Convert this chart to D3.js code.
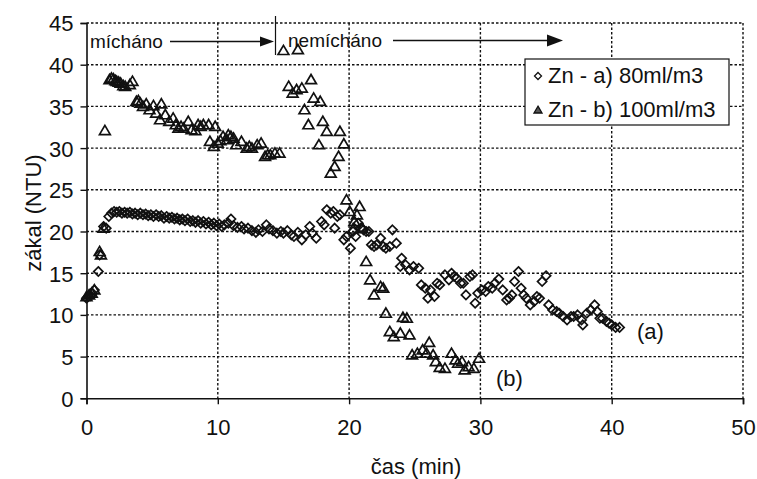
<!DOCTYPE html>
<html><head><meta charset="utf-8">
<script src="https://cdn.jsdelivr.net/npm/d3@7"></script>
<style>
html,body{margin:0;padding:0;background:#fff;}
svg{display:block;font-family:"Liberation Sans",Arial,sans-serif;}
</style></head>
<body><svg id="chart" width="757" height="479"></svg>
<script>
// ---- data ----
const xTicks = [0, 10, 20, 30, 40, 50];
const yTicks = [0, 5, 10, 15, 20, 25, 30, 35, 40, 45];
const seriesNames = ["Zn - a) 80ml/m3", "Zn - b) 100ml/m3"];
const xLabel = "čas (min)";
const yLabel = "zákal (NTU)";

const aX = [0.0,0.15,0.3,0.45,0.6,0.9,1.0,1.3,1.5,1.7,1.9,2.1,2.3,2.5,2.7,2.9,3.1,3.3,3.5,3.7,3.9,4.1,4.3,4.5,4.7,4.9,5.1,5.3,5.5,5.7,5.9,6.1,6.3,6.5,6.7,6.9,7.1,7.3,7.5,7.7,7.9,8.1,8.3,8.5,8.7,8.9,9.1,9.3,9.5,9.7,9.9,10.1,10.3,10.5,10.8,11.0,11.2,11.5,11.8,12.0,12.3,12.6,12.9,13.1,13.4,13.7,13.9,14.2,14.5,14.8,15.0,15.3,15.6,15.8,16.1,16.4,16.7,17.0,17.2,17.5,17.9,18.1,18.3,18.6,18.8,18.9,19.1,19.3,19.6,19.8,20.1,20.3,20.5,20.7,20.9,21.1,21.3,21.5,21.7,21.9,22.1,22.4,22.6,22.8,23.1,23.3,23.6,23.9,24.0,24.3,24.6,24.9,25.3,25.5,25.8,26.0,26.2,26.5,26.7,26.9,27.3,27.6,27.8,28.0,28.2,28.5,28.7,28.9,29.2,29.4,29.6,29.8,30.1,30.4,30.6,30.9,31.1,31.4,31.7,32.0,32.2,32.4,32.6,32.9,33.1,33.3,33.5,33.8,34.1,34.3,34.5,34.7,35.0,35.2,35.5,35.8,36.0,36.3,36.6,36.9,37.1,37.4,37.7,37.8,38.1,38.4,38.7,38.9,39.1,39.3,39.6,39.8,40.0,40.3,40.6];
const aY = [12.0,12.2,12.3,12.6,13.0,15.2,17.2,20.6,20.4,21.8,22.2,22.4,22.3,22.4,22.2,22.3,22.2,22.3,22.1,22.2,22.0,22.2,22.0,22.1,21.9,22.0,21.8,22.0,21.8,21.9,21.6,21.8,21.6,21.7,21.5,21.6,21.4,21.5,21.3,21.5,21.2,21.3,21.1,21.3,21.0,21.2,20.9,21.1,20.8,21.0,20.7,20.9,20.6,20.8,21.0,21.5,20.7,20.5,20.6,20.3,20.4,20.1,19.9,20.2,20.0,20.8,20.3,20.1,19.8,20.0,19.8,20.1,19.6,19.4,19.9,19.0,19.6,20.6,19.8,19.2,21.2,20.8,22.6,22.2,22.4,20.4,21.8,22.0,19.0,19.4,18.0,20.0,19.4,21.0,20.4,20.2,20.0,20.0,18.4,18.2,18.4,19.2,18.2,18.0,18.2,20.2,18.6,15.8,16.8,16.0,15.4,15.8,15.6,13.6,13.2,12.0,13.0,12.2,13.8,13.6,14.8,14.2,15.0,14.6,14.4,13.8,13.8,12.4,14.6,14.8,11.4,12.6,13.0,12.8,13.4,13.2,13.8,14.3,13.0,11.8,12.0,12.4,14.0,15.2,13.2,12.4,12.0,11.2,11.6,12.2,12.0,14.0,14.7,11.2,10.6,10.4,10.2,9.8,9.4,9.8,9.8,10.0,9.4,8.8,10.2,10.6,11.2,10.4,9.6,9.6,9.2,9.0,8.8,8.5,8.5];

const bX = [0.0,0.2,0.4,0.6,1.0,1.1,1.3,1.4,1.75,1.9,2.05,2.2,2.3,2.45,2.6,2.8,2.95,3.3,3.5,3.8,3.95,4.1,4.3,4.55,4.8,5.1,5.3,5.6,5.7,6.0,6.3,6.6,6.8,7.0,7.2,7.4,7.75,8.0,8.3,8.5,8.7,8.9,9.3,9.4,9.7,9.8,10.0,10.2,10.4,10.7,10.8,11.0,11.2,11.4,11.8,12.2,12.4,12.6,13.0,13.3,13.6,13.8,14.0,14.35,14.7,15.0,15.4,15.7,16.0,16.1,16.4,16.6,16.9,17.1,17.3,17.7,17.8,18.0,18.3,18.6,18.9,19.2,19.3,19.6,19.8,20.05,20.3,20.4,20.6,20.8,21.0,21.3,21.6,21.9,22.4,22.6,22.8,23.1,23.4,23.9,24.1,24.4,24.6,24.8,25.2,25.6,25.9,26.1,26.4,26.6,26.9,27.3,27.8,28.1,28.3,28.6,28.8,29.1,29.5,29.9];
const bY = [12.2,12.4,12.6,13.0,17.6,17.2,20.4,32.1,38.2,38.4,38.3,38.1,38.0,37.9,37.8,37.5,37.4,37.6,38.0,35.6,35.7,35.4,35.0,35.3,34.6,35.1,34.2,33.4,35.3,34.0,33.2,33.6,32.8,32.4,32.6,32.4,33.2,32.2,32.1,32.8,32.6,32.8,32.8,30.8,30.2,32.6,30.6,30.9,31.4,31.0,31.6,31.4,31.2,30.4,30.8,30.0,30.2,30.0,30.4,30.6,29.0,29.2,29.2,29.4,29.4,41.7,37.4,36.6,37.0,41.8,37.2,34.6,32.8,38.2,36.0,30.4,35.6,33.2,32.0,27.0,27.8,29.0,32.0,30.5,23.8,22.4,20.3,21.2,22.0,23.0,20.4,16.4,14.2,12.4,13.4,13.2,10.2,8.0,7.4,7.8,9.7,9.6,7.6,5.2,5.4,5.8,5.4,6.7,5.2,4.4,3.7,3.6,5.4,4.6,4.2,4.4,3.4,3.8,3.6,4.8];

// ---- layout ----
const svg = d3.select("#chart");
const L = 86.5, R = 743, T = 23, B = 398.3;
const x = d3.scaleLinear().domain([0, 50]).range([L, R]);
const y = d3.scaleLinear().domain([0, 45]).range([B, T]);
const FONT = '"Liberation Sans", Arial, sans-serif';

const diamond = "M0,-4.6L4.6,0L0,4.6L-4.6,0Z";
const triangle = "M0,-5.2L5.4,4L-5.4,4Z";

// grid (dotted)
const grid = svg.append("g").attr("stroke", "#111").attr("stroke-width", 1.4).attr("stroke-dasharray", "2.5,2");
grid.selectAll(".h").data(yTicks.filter(d => d > 0)).enter().append("line")
  .attr("x1", L).attr("x2", R).attr("y1", d => y(d)).attr("y2", d => y(d));
grid.selectAll(".v").data(xTicks.filter(d => d > 0)).enter().append("line")
  .attr("y1", T).attr("y2", B).attr("x1", d => x(d)).attr("x2", d => x(d));

// axes
const xAxis = d3.axisBottom(x).tickValues(xTicks).tickSize(6).tickPadding(15).tickFormat(d3.format("d"));
const yAxis = d3.axisLeft(y).tickValues(yTicks).tickSize(6).tickPadding(7).tickFormat(d3.format("d"));
const gx = svg.append("g").attr("transform", `translate(0,${B})`).call(xAxis);
const gy = svg.append("g").attr("transform", `translate(${L},0)`).call(yAxis);
[gx, gy].forEach(g => {
  g.select(".domain").attr("stroke", "#111").attr("stroke-width", 1.6);
  g.selectAll(".tick line").attr("stroke", "#111").attr("stroke-width", 1.4);
  g.selectAll(".tick text").attr("fill", "#111").style("font-size", "22px").style("font-family", FONT);
});
gy.selectAll(".tick text").attr("dy", "0.36em");

// axis titles
svg.append("text").attr("x", 416).attr("y", 474).attr("text-anchor", "middle")
  .style("font-size", "22px").attr("fill", "#111").text(xLabel);
svg.append("text").attr("transform", "translate(41,213) rotate(-90)").attr("text-anchor", "middle")
  .style("font-size", "22px").attr("fill", "#111").text(yLabel);

// annotation: mícháno / nemícháno
svg.append("text").attr("x", 90).attr("y", 48).style("font-size", "19px").attr("fill", "#111").text("mícháno");
svg.append("line").attr("x1", 170).attr("x2", 262).attr("y1", 41.5).attr("y2", 41.5).attr("stroke", "#111").attr("stroke-width", 1.3);
svg.append("path").attr("d", "M260,36.5L274,41.5L260,46.5Z").attr("fill", "#111");
svg.append("line").attr("x1", 275.5).attr("x2", 275.5).attr("y1", 16).attr("y2", 55).attr("stroke", "#111").attr("stroke-width", 1.2);
svg.append("text").attr("x", 288).attr("y", 47).style("font-size", "19px").attr("fill", "#111").text("nemícháno");
svg.append("line").attr("x1", 393).attr("x2", 550).attr("y1", 40.5).attr("y2", 40.5).attr("stroke", "#111").attr("stroke-width", 1.3);
svg.append("path").attr("d", "M547,34.5L563,40.5L547,46.5Z").attr("fill", "#111");

// points
const aData = aX.map((v, i) => [v, aY[i]]);
const bData = bX.map((v, i) => [v, bY[i]]);
svg.append("g").selectAll("path").data(bData).enter().append("path")
  .attr("d", triangle).attr("transform", d => `translate(${x(d[0])},${y(d[1])})`)
  .attr("fill", "none").attr("stroke", "#111").attr("stroke-width", 1.7);
svg.append("g").selectAll("path").data(aData).enter().append("path")
  .attr("d", diamond).attr("transform", d => `translate(${x(d[0])},${y(d[1])})`)
  .attr("fill", "none").attr("stroke", "#111").attr("stroke-width", 1.7);

// labels (a), (b)
svg.append("rect").attr("x", 632).attr("y", 316).attr("width", 42).attr("height", 30).attr("fill", "#fff");
svg.append("text").attr("x", 637).attr("y", 339).style("font-size", "22px").attr("fill", "#111").text("(a)");
svg.append("text").attr("x", 496).attr("y", 386).style("font-size", "22px").attr("fill", "#111").text("(b)");

// legend
const lg = svg.append("g");
lg.append("rect").attr("x", 525).attr("y", 59).attr("width", 204).attr("height", 66)
  .attr("fill", "#fff").attr("stroke", "#111").attr("stroke-width", 1.2);
const lgY = [83, 117];
lg.append("path").attr("d", "M0,-3.5L3.5,0L0,3.5L-3.5,0Z").attr("transform", `translate(538,${lgY[0]-7})`)
  .attr("fill", "none").attr("stroke", "#111").attr("stroke-width", 1.3);
lg.append("path").attr("d", "M0,-3.8L4,3L-4,3Z").attr("transform", `translate(538,${lgY[1]-7})`)
  .attr("fill", "#555").attr("stroke", "#111").attr("stroke-width", 1.3);
seriesNames.forEach((s, i) => {
  lg.append("text").attr("x", 548).attr("y", lgY[i]).style("font-size", "22px").attr("fill", "#111").text(s);
});
</script>
</body></html>
